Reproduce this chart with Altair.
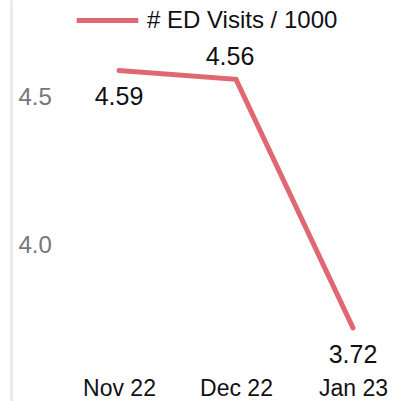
import altair as alt
import pandas as pd

months = ["Nov 22", "Dec 22", "Jan 23"]
visits = [4.59, 4.56, 3.72]
series_name = "# ED Visits / 1000"

df = pd.DataFrame({"month": months, "value": visits, "series": [series_name] * 3})
df["label"] = df["value"].map(lambda v: f"{v:.2f}")

FONT = "Liberation Sans"

x = alt.X("month:N", sort=months,
          scale=alt.Scale(type="point", range=[108, 342], padding=0),
          axis=alt.Axis(title=None, domain=False, ticks=False, labelAngle=0,
                        labelFont=FONT, labelFontSize=23, labelColor="#111",
                        labelPadding=-13, labelBaseline="middle"))
y = alt.Y("value:Q", scale=alt.Scale(domain=[3.473, 4.828], nice=False, zero=False),
          axis=alt.Axis(title=None, values=[4.0, 4.5], format=".1f", grid=False, ticks=False,
                        domain=True, domainColor="#ebebeb", domainWidth=3,
                        labelAlign="left", labelPadding=-7, labelFont=FONT,
                        labelFontSize=24, labelColor="#777"))

line = alt.Chart(df).mark_line(strokeWidth=5, strokeCap="round", strokeJoin="miter").encode(
    x=x, y=y,
    color=alt.Color("series:N", scale=alt.Scale(domain=[series_name], range=["#df6873"]),
                    legend=alt.Legend(title=None, orient="none", legendX=63, legendY=-13,
                                      symbolType="stroke", symbolSize=3800, symbolStrokeWidth=5,
                                      labelFont=FONT, labelFontSize=24, labelLimit=400,
                                      labelColor="#111", labelOffset=6)),
)

below = alt.Chart(df).transform_filter(alt.datum.month != "Dec 22").mark_text(
    font=FONT, fontSize=25, color="#111", dy=27, baseline="middle").encode(
    x=x, y=y, text="label:N")
above = alt.Chart(df).transform_filter(alt.datum.month == "Dec 22").mark_text(
    font=FONT, fontSize=25, color="#111", dy=-22, dx=-6, baseline="middle").encode(
    x=x, y=y, text="label:N")

chart = alt.layer(line, below, above).properties(
    width=382, height=401,
    autosize=alt.AutoSizeParams(type="none"),
    padding={"left": 11, "top": 0, "right": 0, "bottom": 0},
).configure_view(stroke=None)

chart.save("out.html", embed_options={"renderer": "svg", "actions": False})
